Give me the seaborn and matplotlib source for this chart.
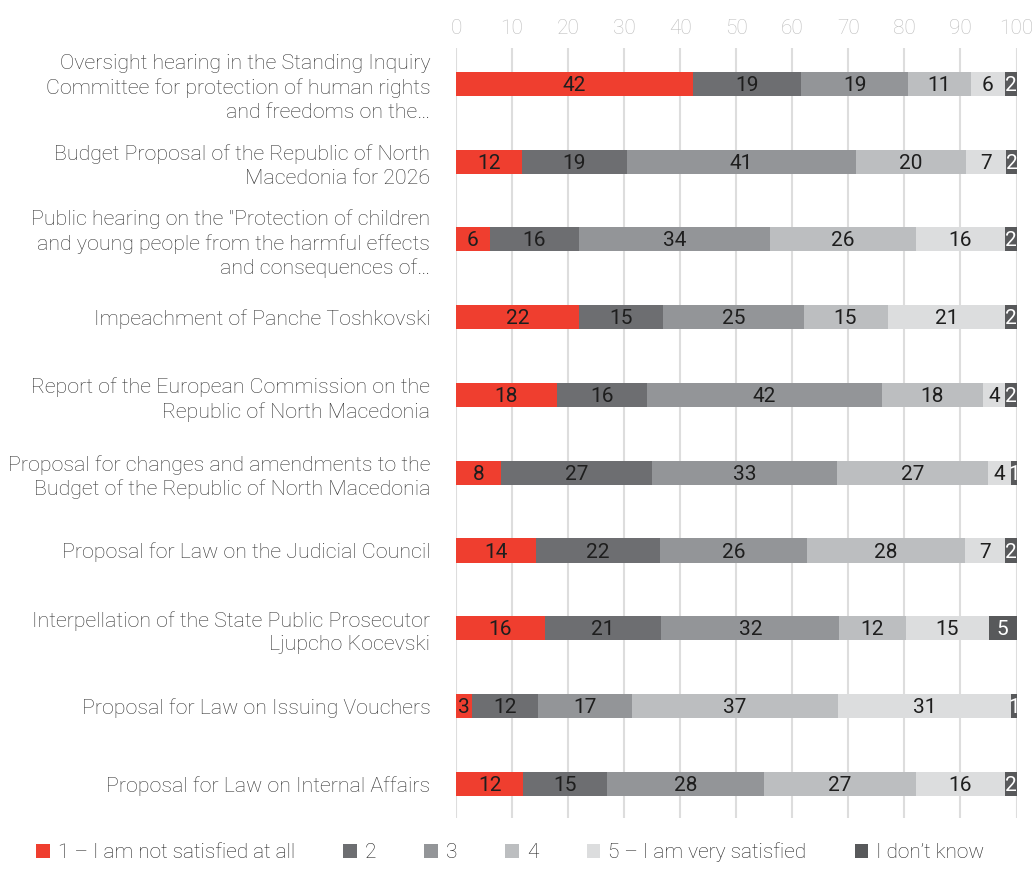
import matplotlib
matplotlib.use("Agg")
import matplotlib.pyplot as plt
import seaborn as sns
import pandas as pd
import numpy as np
from matplotlib.patches import Patch

sns.set_theme(style="white")
plt.rcParams['font.family'] = ['Roboto', 'DejaVu Sans']

categories = [
    "Oversight hearing in the Standing Inquiry\nCommittee for protection of human rights\nand freedoms on the…",
    "Budget Proposal of the Republic of North\nMacedonia for 2026",
    "Public hearing on the \"Protection of children\nand young people from the harmful effects\nand consequences of…",
    "Impeachment of Panche Toshkovski",
    "Report of the European Commission on the\nRepublic of North Macedonia",
    "Proposal for changes and amendments to the\nBudget of the Republic of North Macedonia",
    "Proposal for Law on the Judicial Council",
    "Interpellation of the State Public Prosecutor\nLjupcho Kocevski",
    "Proposal for Law on Issuing Vouchers",
    "Proposal for Law on Internal Affairs",
]
series_names = ["1 – I am not satisfied at all", "2", "3", "4", "5 – I am very satisfied", "I don’t know"]
# estimated (rounded labels shown on bars)
s1 = [42.2, 11.7, 6.0, 22.0, 18.0, 8.0, 14.2, 15.8, 2.8, 12.0]
s2 = [19.4, 18.8, 16.0, 15.0, 16.0, 27.0, 22.2, 20.8, 11.8, 15.0]
s3 = [19.1, 40.8, 34.0, 25.0, 42.0, 33.0, 26.2, 31.8, 16.8, 28.0]
s4 = [11.1, 19.7, 26.0, 15.0, 18.0, 27.0, 28.2, 11.8, 36.8, 27.0]
s5 = [6.1, 7.2, 16.0, 21.0, 4.0, 4.0, 7.1, 14.9, 30.8, 16.0]
s_dk = [2.1, 1.8, 2.0, 2.0, 2.0, 1.0, 2.1, 4.9, 1.0, 2.0]
colors = ["#EF3E2F", "#6D6E71", "#939598", "#BCBEC0", "#DCDDDE", "#58595B"]
label_colors = ["#1E1E1E", "#1E1E1E", "#1E1E1E", "#1E1E1E", "#1E1E1E", "#FFFFFF"]
xticks = [0, 10, 20, 30, 40, 50, 60, 70, 80, 90, 100]

series = [s1, s2, s3, s4, s5, s_dk]
vals = np.array(series, dtype=float)
cum = np.cumsum(vals, axis=0)

fig = plt.figure(figsize=(10.33, 8.89), dpi=100)
ax = fig.add_axes([456/1033, 1-818/889, (1016.5-456)/1033, (818-48)/889])

# draw cumulative bars from the last to first so shorter cover longer
for i in range(len(series)-1, -1, -1):
    df = pd.DataFrame({"cat": categories, "x": cum[i]})
    sns.barplot(data=df, y="cat", x="x", order=categories, color=colors[i],
                saturation=1, width=0.31, ax=ax, orient="h", linewidth=0)

for i in range(len(series)):
    for j, cat in enumerate(categories):
        v = vals[i, j]
        center = cum[i, j] - v/2
        ax.text(center, j + 0.02, f"{int(round(v))}", ha="center", va="center",
                fontsize=15, fontweight="normal", color=label_colors[i],
                family=['Roboto', 'DejaVu Sans'])

ax.set_xlim(0, 100)
ax.set_ylim(9.44, -0.46)
ax.set_xticks(xticks)
ax.set_xticklabels([str(t) for t in xticks])
ax.xaxis.tick_top()
ax.tick_params(axis="x", length=0, pad=7, labelsize=15, labelcolor="#BDBDBD")
ax.tick_params(axis="y", length=0, pad=18.5, labelsize=15.4, labelcolor="#333333")
for lbl in ax.get_yticklabels():
    lbl.set_fontweight("light")
    lbl.set_linespacing(1.31)
for lbl in ax.get_xticklabels():
    lbl.set_fontweight("light")
ax.set_xlabel("")
ax.set_ylabel("")
ax.grid(axis="x", color="#DDDDDD", linewidth=1.5)
ax.set_axisbelow(True)
for sp in ax.spines.values():
    sp.set_visible(False)

handles = [Patch(facecolor=c, edgecolor="none") for c in colors]
leg = fig.legend(handles, series_names, loc="center", bbox_to_anchor=(0.494, 1-852/889),
                 ncol=6, frameon=False, handlelength=0.65, handleheight=0.65,
                 handletextpad=0.4, columnspacing=2.3,
                 prop={"family": "Roboto", "weight": "light", "size": 15})
for t in leg.get_texts():
    t.set_color("#222222")

fig.savefig("out.png", dpi=100)
